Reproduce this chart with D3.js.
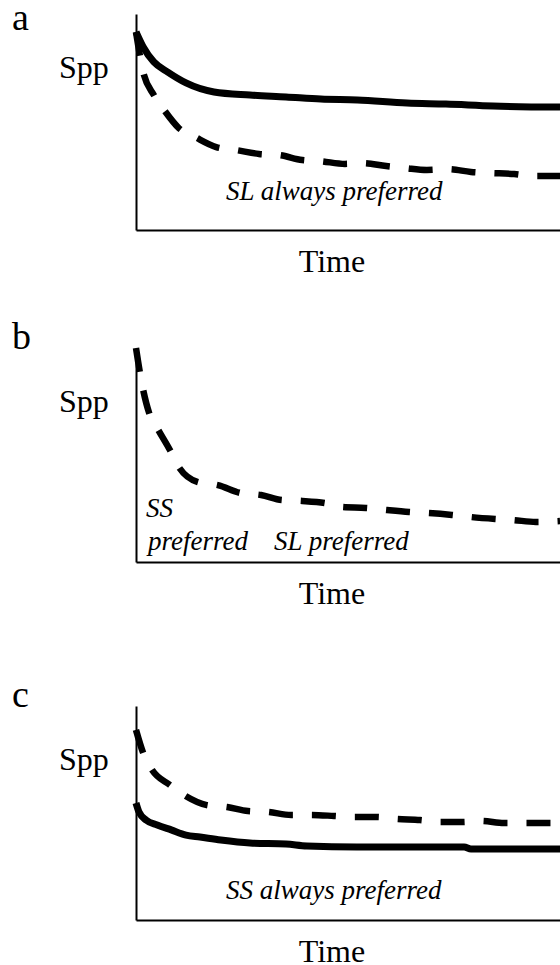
<!DOCTYPE html>
<html><head><meta charset="utf-8">
<script src="https://cdn.jsdelivr.net/npm/d3@7"></script>
<style>html,body{margin:0;padding:0;background:#fff;} svg{display:block}</style>
</head><body>
<svg id="chart" width="560" height="965"></svg>
<script>
// ---------- Data (arbitrary units: Time 0-100, Spp 0-100) ----------
const panelLabels = ["a", "b", "c"];
const yAxisLabel = "Spp";
const xAxisLabel = "Time";
const notesA = ["SL always preferred"];
const notesB = ["SS", "preferred", "SL preferred"];
const notesC = ["SS always preferred"];

// Panel a
const aSolidTime = [0, 1.7, 4.2, 7.5, 11.8, 18.4, 26.9, 35.4, 43.6, 52.2, 63.9, 73.1, 84.2, 100];
const aSolidSpp  = [91.7, 84.7, 77.8, 73.1, 68.1, 63.9, 62.5, 61.6, 60.6, 60.2, 58.8, 58.3, 57.4, 56.9];
const aDashTime  = [0, 1.7, 4.2, 6.6, 10.1, 13.9, 18.9, 23.6, 29.0, 33.7, 39.2, 43.4, 49.3, 53.3, 59.0, 63.4, 68.6, 73.6, 79.0, 83.3, 89.2, 93.4, 100];
const aDashSpp   = [91.7, 73.1, 62.5, 55.6, 47.2, 43.1, 38.4, 37.0, 35.2, 34.7, 32.4, 31.9, 30.6, 31.0, 29.6, 28.7, 27.8, 28.2, 26.9, 26.4, 25.9, 25.0, 25.0];

// Panel b
const bDashTime = [0, 0.9, 1.7, 3.1, 5.0, 8.0, 10.1, 14.6, 19.3, 24.8, 29.5, 34.4, 39.2, 44.6, 48.8, 54.2, 59.2, 64.4, 69.1, 74.5, 79.0, 84.7, 88.9, 94.3, 100];
const bDashSpp  = [100.9, 89.6, 81.1, 70.3, 63.2, 52.8, 44.8, 37.7, 36.3, 32.5, 31.6, 29.2, 28.8, 27.8, 25.9, 25.5, 24.5, 23.6, 23.1, 22.2, 21.2, 20.3, 19.8, 18.9, 19.3];

// Panel c
const cSolidTime = [0, 0.7, 2.4, 5.0, 8.3, 11.8, 15.1, 20.0, 26.9, 35.4, 40.3, 52.1, 77.4, 79.0, 100];
const cSolidSpp  = [54.7, 50.5, 46.7, 44.4, 42.1, 39.7, 38.8, 37.4, 36.0, 35.5, 34.6, 34.1, 34.1, 33.2, 33.2];
const cDashTime  = [0, 1.7, 3.8, 8.0, 11.3, 16.7, 21.5, 26.4, 31.1, 36.6, 41.3, 46.7, 50.9, 56.8, 61.3, 67.0, 71.5, 76.9, 81.4, 86.8, 91.3, 96.7, 100];
const cDashSpp   = [88.8, 78.0, 70.1, 63.1, 58.4, 53.7, 52.8, 50.9, 50.5, 49.1, 49.1, 48.6, 48.1, 48.1, 47.2, 46.7, 45.8, 45.8, 46.3, 45.3, 45.3, 45.3, 45.3];

// ---------- Drawing ----------
const svg = d3.select("#chart");
const serif = "'Liberation Serif','Times New Roman',Times,serif";
const toPts = (ts, ss) => ts.map((t, i) => ({t: t, s: ss[i]}));

const x = d3.scaleLinear().domain([0, 100]).range([136, 560]);

const layouts = [
  {top: 14,  bottom: 230, labelY: 30,  sppY: 78},
  {top: 350, bottom: 562, labelY: 349, sppY: 412},
  {top: 706, bottom: 920, labelY: 707, sppY: 770}
];

const series = [
  [{pts: toPts(aDashTime, aDashSpp), dash: true}, {pts: toPts(aSolidTime, aSolidSpp), dash: false}],
  [{pts: toPts(bDashTime, bDashSpp), dash: true}],
  [{pts: toPts(cDashTime, cDashSpp), dash: true}, {pts: toPts(cSolidTime, cSolidSpp), dash: false}]
];

const notes = [
  [{text: notesA[0], x: 226, y: 200}],
  [{text: notesB[0], x: 146, y: 517}, {text: notesB[1], x: 148, y: 550}, {text: notesB[2], x: 274, y: 550}],
  [{text: notesC[0], x: 226, y: 899}]
];

layouts.forEach((L, i) => {
  const g = svg.append("g");
  const y = d3.scaleLinear().domain([0, 100]).range([L.bottom, L.top]);

  // axes (no ticks)
  const ax = g.append("g").attr("transform", `translate(0,${L.bottom})`)
    .call(d3.axisBottom(x).tickValues([]).tickSizeOuter(0));
  const ay = g.append("g").attr("transform", `translate(136,0)`)
    .call(d3.axisLeft(y).tickValues([]).tickSizeOuter(0));
  [ax, ay].forEach(a => a.select(".domain").attr("stroke", "#000").attr("stroke-width", 2));

  // curves
  const line = d3.line().x(d => x(d.t)).y(d => y(d.s)).curve(d3.curveMonotoneX);
  series[i].forEach(sr => {
    g.append("path").datum(sr.pts)
      .attr("d", line)
      .attr("fill", "none")
      .attr("stroke", "#000")
      .attr("stroke-width", sr.dash ? 6.5 : 7)
      .attr("stroke-linecap", "butt")
      .attr("stroke-linejoin", "round")
      .attr("stroke-dasharray", sr.dash ? "24,19" : null);
  });

  // texts
  g.append("text").attr("x", 12).attr("y", L.labelY)
    .attr("font-family", serif).attr("font-size", 38).text(panelLabels[i]);
  g.append("text").attr("x", 59).attr("y", L.sppY)
    .attr("font-family", serif).attr("font-size", 32).text(yAxisLabel);
  g.append("text").attr("x", 332).attr("y", L.bottom + 42)
    .attr("text-anchor", "middle")
    .attr("font-family", serif).attr("font-size", 32).text(xAxisLabel);
  notes[i].forEach(n => {
    g.append("text").attr("x", n.x).attr("y", n.y)
      .attr("font-family", serif).attr("font-style", "italic")
      .attr("font-size", 27).text(n.text);
  });
});
</script>
</body></html>
